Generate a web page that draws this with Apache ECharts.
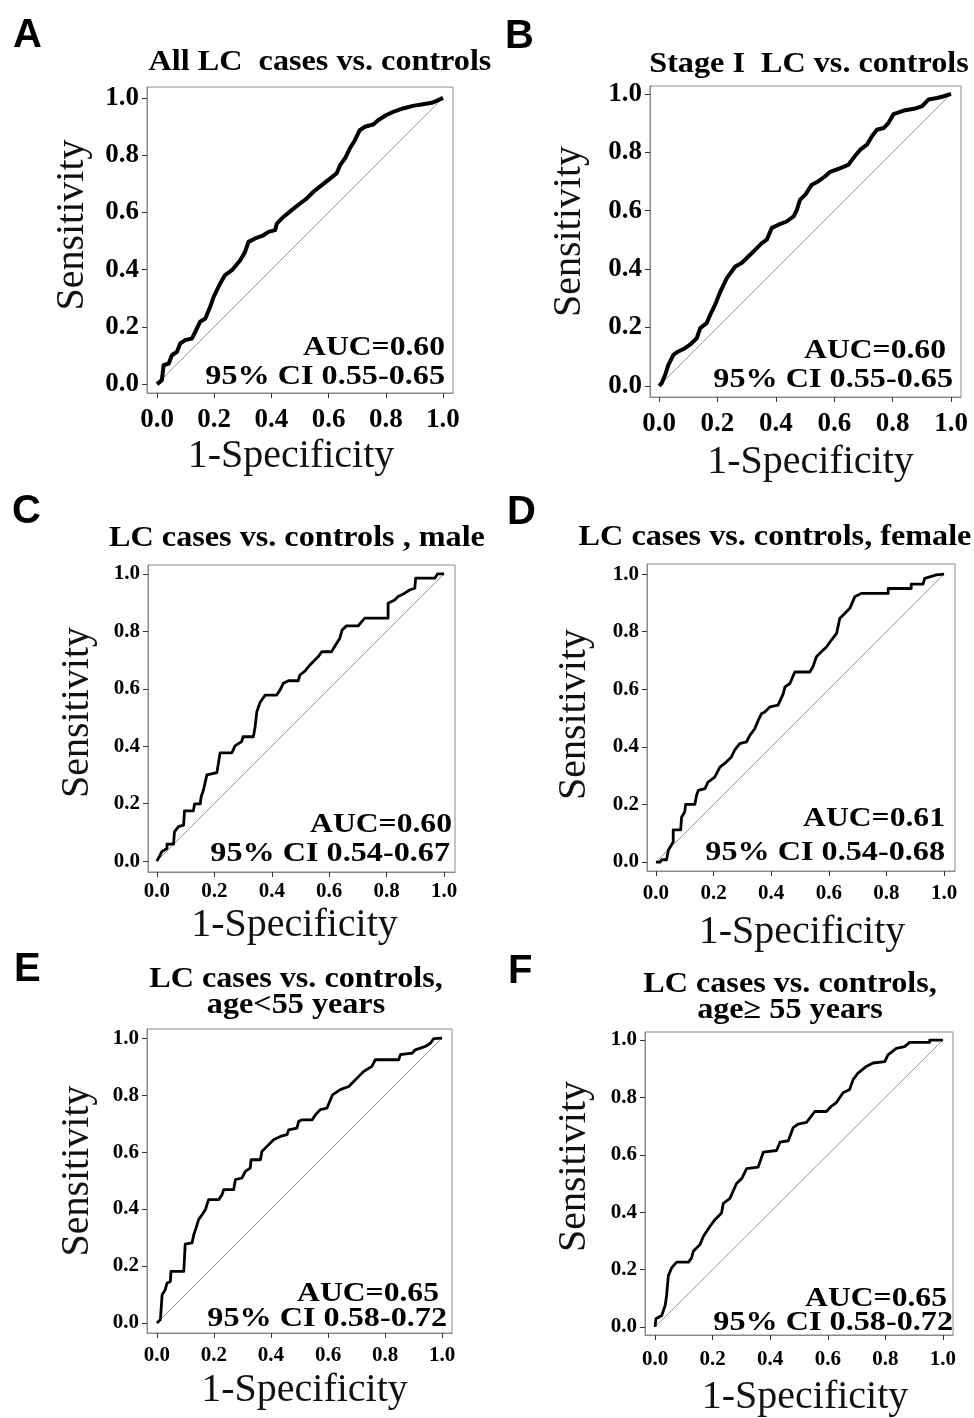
<!DOCTYPE html>
<html>
<head>
<meta charset="utf-8">
<script src="https://cdn.jsdelivr.net/npm/echarts@6/dist/echarts.min.js"></script>
<style>
html,body{margin:0;padding:0;background:#fff;}
#chart{width:974px;height:1418px;}
</style>
</head>
<body>
<div id="chart"></div>
<script>
// ---------------- DATA ----------------
const tickValues = [0, 0.2, 0.4, 0.6, 0.8, 1.0];
const diagonal = [[0, 0], [1, 1]];
const panelLetters = ['A', 'B', 'C', 'D', 'E', 'F'];
const panelTitles = [
  'All LC  cases vs. controls',
  'Stage I  LC vs. controls',
  'LC cases vs. controls , male',
  'LC cases vs. controls, female',
  'LC cases vs. controls,\nage<55 years',
  'LC cases vs. controls,\nage\u2265 55 years'
];
const aucLabels = ['AUC=0.60', 'AUC=0.60', 'AUC=0.60', 'AUC=0.61', 'AUC=0.65', 'AUC=0.65'];
const ciLabels = ['95% CI 0.55-0.65', '95% CI 0.55-0.65', '95% CI 0.54-0.67', '95% CI 0.54-0.68', '95% CI 0.58-0.72', '95% CI 0.58-0.72'];
const xAxisName = '1-Specificity';
const yAxisName = 'Sensitivity';

const rocA = [[0,0],[0.017,0.014],[0.023,0.066],[0.041,0.072],[0.052,0.101],[0.07,0.113],[0.081,0.142],[0.099,0.154],[0.122,0.159],[0.134,0.183],[0.151,0.218],[0.169,0.229],[0.186,0.27],[0.198,0.305],[0.221,0.352],[0.238,0.381],[0.262,0.398],[0.291,0.433],[0.308,0.462],[0.32,0.497],[0.343,0.509],[0.372,0.52],[0.39,0.532],[0.413,0.538],[0.419,0.561],[0.442,0.584],[0.471,0.608],[0.5,0.631],[0.523,0.648],[0.547,0.672],[0.576,0.695],[0.605,0.718],[0.628,0.736],[0.64,0.765],[0.657,0.788],[0.674,0.823],[0.692,0.852],[0.709,0.887],[0.727,0.899],[0.756,0.907],[0.773,0.922],[0.802,0.94],[0.826,0.951],[0.86,0.963],[0.895,0.972],[0.93,0.978],[0.965,0.984],[0.983,0.992],[1,1]];
const rocB = [[0,0],[0.009,0.009],[0.021,0.038],[0.032,0.072],[0.049,0.106],[0.066,0.118],[0.089,0.129],[0.106,0.141],[0.129,0.163],[0.141,0.198],[0.163,0.215],[0.175,0.243],[0.192,0.278],[0.21,0.323],[0.232,0.369],[0.261,0.409],[0.283,0.421],[0.312,0.449],[0.329,0.466],[0.352,0.489],[0.369,0.501],[0.386,0.541],[0.409,0.552],[0.437,0.563],[0.461,0.581],[0.472,0.603],[0.483,0.638],[0.501,0.655],[0.523,0.689],[0.546,0.701],[0.569,0.718],[0.586,0.733],[0.621,0.746],[0.649,0.758],[0.666,0.781],[0.689,0.809],[0.712,0.826],[0.729,0.855],[0.746,0.877],[0.769,0.883],[0.786,0.901],[0.803,0.931],[0.838,0.943],[0.878,0.95],[0.901,0.958],[0.923,0.981],[0.952,0.986],[0.975,0.992],[1,1]];
const rocC = [[0,0],[0.008,0.015],[0.017,0.033],[0.035,0.044],[0.035,0.059],[0.058,0.059],[0.061,0.102],[0.075,0.12],[0.093,0.125],[0.096,0.175],[0.127,0.175],[0.131,0.199],[0.151,0.199],[0.154,0.224],[0.162,0.247],[0.174,0.3],[0.209,0.308],[0.22,0.377],[0.261,0.377],[0.272,0.401],[0.295,0.416],[0.3,0.433],[0.336,0.433],[0.342,0.468],[0.348,0.52],[0.359,0.552],[0.377,0.578],[0.417,0.578],[0.429,0.596],[0.44,0.619],[0.458,0.628],[0.492,0.628],[0.498,0.648],[0.516,0.662],[0.533,0.683],[0.545,0.695],[0.562,0.712],[0.574,0.729],[0.608,0.729],[0.62,0.749],[0.637,0.776],[0.645,0.805],[0.66,0.819],[0.701,0.819],[0.713,0.834],[0.724,0.846],[0.805,0.846],[0.805,0.898],[0.828,0.909],[0.84,0.921],[0.863,0.933],[0.88,0.944],[0.898,0.95],[0.901,0.985],[0.968,0.985],[0.977,1],[1,1]];
const rocD = [[0,0],[0.014,0],[0.02,0.008],[0.037,0.008],[0.043,0.041],[0.06,0.07],[0.06,0.112],[0.086,0.112],[0.089,0.156],[0.1,0.174],[0.103,0.2],[0.135,0.2],[0.141,0.232],[0.147,0.249],[0.17,0.255],[0.181,0.278],[0.204,0.295],[0.222,0.33],[0.245,0.348],[0.262,0.365],[0.274,0.39],[0.291,0.411],[0.314,0.417],[0.326,0.44],[0.343,0.463],[0.355,0.492],[0.367,0.516],[0.378,0.521],[0.396,0.539],[0.424,0.545],[0.442,0.585],[0.448,0.608],[0.465,0.62],[0.482,0.66],[0.534,0.66],[0.545,0.678],[0.557,0.713],[0.574,0.73],[0.592,0.747],[0.609,0.771],[0.627,0.794],[0.638,0.846],[0.655,0.863],[0.673,0.881],[0.69,0.921],[0.713,0.933],[0.806,0.933],[0.806,0.95],[0.886,0.95],[0.886,0.965],[0.927,0.965],[0.933,0.985],[0.973,0.997],[1,1]];
const rocE = [[0,0],[0.012,0.012],[0.018,0.099],[0.029,0.117],[0.035,0.14],[0.047,0.146],[0.049,0.181],[0.094,0.181],[0.099,0.277],[0.123,0.281],[0.129,0.31],[0.137,0.333],[0.146,0.363],[0.158,0.38],[0.17,0.398],[0.181,0.433],[0.216,0.433],[0.228,0.45],[0.234,0.468],[0.269,0.468],[0.275,0.503],[0.298,0.509],[0.31,0.532],[0.327,0.544],[0.33,0.573],[0.363,0.573],[0.368,0.602],[0.386,0.62],[0.409,0.643],[0.433,0.655],[0.456,0.661],[0.462,0.678],[0.491,0.684],[0.497,0.708],[0.509,0.713],[0.544,0.713],[0.556,0.731],[0.573,0.749],[0.596,0.754],[0.616,0.801],[0.643,0.819],[0.673,0.83],[0.69,0.848],[0.713,0.871],[0.725,0.883],[0.754,0.901],[0.766,0.924],[0.848,0.924],[0.854,0.942],[0.895,0.947],[0.906,0.959],[0.942,0.971],[0.959,0.982],[0.971,0.998],[1,1]];
const rocF = [[0,0],[0.003,0.029],[0.012,0.034],[0.023,0.04],[0.035,0.075],[0.04,0.109],[0.046,0.178],[0.058,0.207],[0.075,0.226],[0.116,0.226],[0.127,0.241],[0.133,0.264],[0.156,0.287],[0.168,0.316],[0.191,0.351],[0.208,0.374],[0.231,0.397],[0.237,0.431],[0.26,0.448],[0.283,0.5],[0.301,0.517],[0.318,0.552],[0.358,0.557],[0.376,0.609],[0.422,0.615],[0.434,0.644],[0.463,0.649],[0.48,0.695],[0.497,0.707],[0.526,0.713],[0.555,0.751],[0.595,0.751],[0.613,0.77],[0.63,0.782],[0.653,0.816],[0.676,0.828],[0.688,0.862],[0.705,0.885],[0.734,0.908],[0.757,0.92],[0.798,0.925],[0.809,0.948],[0.838,0.971],[0.867,0.977],[0.884,0.992],[0.954,0.992],[0.954,1],[1,1]];
const rocCurves = [rocA, rocB, rocC, rocD, rocE, rocF];

// ---------------- LAYOUT ----------------
const SERIF = '"Liberation Serif","Times New Roman",serif';
const SANS = '"Liberation Sans",Arial,sans-serif';
// g: grid rect; xr/yr: axis extents; tf: tick font; xm: x label margin; lw: curve width
// xg/yg: axis name gaps; xs/ys: axis name shift (px, +right / +up)
const layout = [
  {g:[147,87,306,306], xr:[-0.035,1.035], yr:[-0.031,1.038], tf:27, xm:14, lw:4, let:[13,36], ti:[320,63], auc:[445,348], ci:[445,377], xg:43, yg:55, xs:-9, ys:15},
  {g:[650,86,311,311], xr:[-0.031,1.034], yr:[-0.038,1.027], tf:27, xm:14, lw:4, let:[505,37], ti:[809,65], auc:[946,351], ci:[953,380], xg:45, yg:61, xs:5, ys:10},
  {g:[148,565,307,307], xr:[-0.031,1.038], yr:[-0.038,1.031], tf:21, xm:9, lw:2.8, let:[12,512], ti:[297,539], auc:[452,825], ci:[450,854], xg:33, yg:51, xs:-7, ys:6},
  {g:[647,564,308,307], xr:[-0.031,1.038], yr:[-0.031,1.035], tf:21, xm:12, lw:2.8, let:[507,513], ti:[775,538], auc:[945,819], ci:[945,853], xg:41, yg:53, xs:1, ys:3},
  {g:[147,1029,305,304], xr:[-0.035,1.035], yr:[-0.035,1.032], tf:21, xm:12, lw:2.8, let:[14,970], ti:[296,993], auc:[439,1294], ci:[447,1319], xg:37, yg:50, xs:5, ys:10},
  {g:[645,1032,308,306], xr:[-0.035,1.035], yr:[-0.028,1.028], tf:21, xm:14, lw:2.8, let:[508,972], ti:[790,998], auc:[947,1299], ci:[953,1323], xg:42, yg:51, xs:6, ys:17}
];

const grids = [], xAxes = [], yAxes = [], series = [], graphics = [];
layout.forEach((L, i) => {
  grids.push({left: L.g[0], top: L.g[1], width: L.g[2], height: L.g[3], show: true, borderColor: '#8a8a8a', borderWidth: 1, backgroundColor: '#fff'});
  const common = {
    type: 'value', gridIndex: i,
    axisLine: {show: true, onZero: false, lineStyle: {color: '#8a8a8a', width: 1}},
    axisTick: {show: true, length: 5, lineStyle: {color: '#333', width: 1}, customValues: tickValues},
    splitLine: {show: false},
    axisLabel: {customValues: tickValues, formatter: v => v.toFixed(1), color: '#000', fontFamily: SERIF, fontWeight: 'bold', fontSize: L.tf},
    nameLocation: 'middle'
  };
  const nameStyle = {fontFamily: SERIF, fontSize: 40, color: '#111'};
  xAxes.push(Object.assign({}, common, {min: L.xr[0], max: L.xr[1], name: xAxisName, nameGap: L.xg,
    nameTextStyle: Object.assign({}, nameStyle, {padding: L.xs < 0 ? [0, -2 * L.xs, 0, 0] : [0, 0, 0, 2 * L.xs]}),
    axisLabel: Object.assign({}, common.axisLabel, {margin: L.xm})}));
  yAxes.push(Object.assign({}, common, {min: L.yr[0], max: L.yr[1], name: yAxisName, nameGap: L.yg,
    nameTextStyle: Object.assign({}, nameStyle, {padding: [0, 0, 0, 2 * L.ys]}),
    axisLabel: Object.assign({}, common.axisLabel, {margin: 8})}));
  series.push({type: 'line', xAxisIndex: i, yAxisIndex: i, data: diagonal, symbol: 'none', silent: true,
    lineStyle: {color: '#9a9a9a', width: 1}, z: 2});
  series.push({type: 'line', xAxisIndex: i, yAxisIndex: i, data: rocCurves[i], symbol: 'none', silent: true,
    lineStyle: {color: '#000', width: L.lw, join: 'round'}, z: 3});
  graphics.push({type: 'text', x: L.let[0], y: L.let[1], style: {text: panelLetters[i], fontFamily: SANS, fontWeight: 'bold', fontSize: 40, fill: '#000', align: 'left', verticalAlign: 'middle'}});
  graphics.push({type: 'text', x: L.ti[0], y: L.ti[1], scaleX: 1.11, style: {text: panelTitles[i], fontFamily: SERIF, fontWeight: 'bold', fontSize: 29, lineHeight: 26, fill: '#000', align: 'center', verticalAlign: 'middle'}});
  graphics.push({type: 'text', x: L.auc[0], y: L.auc[1], scaleX: 1.13, z: 10, style: {text: aucLabels[i], fontFamily: SERIF, fontWeight: 'bold', fontSize: 28, fill: '#000', align: 'right', verticalAlign: 'middle'}});
  graphics.push({type: 'text', x: L.ci[0], y: L.ci[1], scaleX: 1.15, z: 10, style: {text: ciLabels[i], fontFamily: SERIF, fontWeight: 'bold', fontSize: 28, fill: '#000', align: 'right', verticalAlign: 'middle'}});
});

const chart = echarts.init(document.getElementById('chart'), null, {renderer: 'canvas'});
chart.setOption({
  backgroundColor: '#fff',
  animation: false,
  grid: grids, xAxis: xAxes, yAxis: yAxes, series: series, graphic: graphics
});
</script>
</body>
</html>
